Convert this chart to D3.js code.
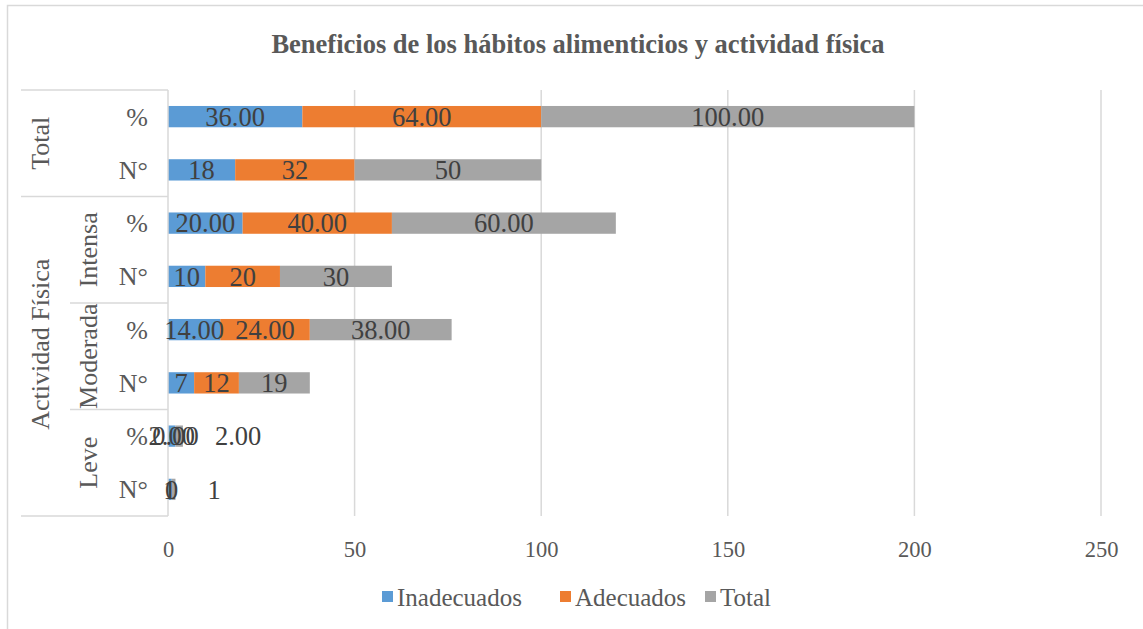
<!DOCTYPE html>
<html>
<head>
<meta charset="utf-8">
<script src="https://cdn.jsdelivr.net/npm/d3@7"></script>
<style>
  html, body { margin: 0; padding: 0; background: #fff; }
  svg { display: block; }
  text { font-family: "Liberation Serif", "Times New Roman", serif; }
</style>
</head>
<body>
<svg id="chart" width="1143" height="629"></svg>
<script>
// ---- data ----
const title = "Beneficios de los hábitos alimenticios y actividad física";
const rowLabels = ["%", "N°", "%", "N°", "%", "N°", "%", "N°"];
const subGroups = [
  { name: "", from: 0, to: 1 },
  { name: "Intensa", from: 2, to: 3 },
  { name: "Moderada", from: 4, to: 5 },
  { name: "Leve", from: 6, to: 7 }
];
const topGroups = [
  { name: "Total", from: 0, to: 1 },
  { name: "Actividad Física", from: 2, to: 7 }
];
const seriesNames = ["Inadecuados", "Adecuados", "Total"];
const inadecuados = [36, 18, 20, 10, 14, 7, 2, 1];
const adecuados   = [64, 32, 40, 20, 24, 12, 0, 0];
const totalVals   = [100, 50, 60, 30, 38, 19, 2, 1];
const xTicks = [0, 50, 100, 150, 200, 250];
const colors = ["#5b9bd5", "#ed7d31", "#a5a5a5"];

// ---- build ----
const rows = rowLabels.map((r, i) => ({
  id: i, label: r,
  Inadecuados: inadecuados[i], Adecuados: adecuados[i], Total: totalVals[i]
}));

const svg = d3.select("#chart");
const gridColor = "#d9d9d9";

// outer border
svg.append("rect").attr("x", 7.5).attr("y", 5.5).attr("width", 1200).attr("height", 700)
  .attr("fill", "none").attr("stroke", gridColor).attr("stroke-width", 1.5);

const plotTop = 90, plotBottom = 516, plotLeft = 168, plotRight = 1101;
const x = d3.scaleLinear().domain([0, 250]).range([plotLeft, plotRight]);
const y = d3.scaleBand().domain(rows.map(d => d.id)).range([plotTop, plotBottom])
  .paddingInner(0.6).paddingOuter(0.3);
const rowTop = i => plotTop + i * (plotBottom - plotTop) / rows.length;

// title
svg.append("text").attr("x", 578).attr("y", 53).attr("text-anchor", "middle")
  .attr("font-size", 26.5).attr("font-weight", "bold").attr("fill", "#595959").text(title);

// gridlines
svg.append("g").selectAll("line").data(xTicks.filter(t => t > 0)).join("line")
  .attr("x1", d => x(d)).attr("x2", d => x(d))
  .attr("y1", plotTop).attr("y2", plotBottom)
  .attr("stroke", gridColor).attr("stroke-width", 1.5);

// x axis tick labels
const xAxis = d3.axisBottom(x).tickValues(xTicks).tickSize(0).tickPadding(0);
const gx = svg.append("g").attr("transform", `translate(0,${plotBottom + 41})`).call(xAxis);
gx.select(".domain").remove();
gx.selectAll("text").attr("font-size", 22.5).attr("fill", "#595959")
  .attr("font-family", "Liberation Serif").attr("dy", 0);

// stacked bars
const stack = d3.stack().keys(seriesNames);
const stacked = stack(rows);
const gBars = svg.append("g");
stacked.forEach((s, si) => {
  gBars.append("g").attr("fill", colors[si]).selectAll("rect").data(s).join("rect")
    .attr("x", d => x(d[0])).attr("width", d => x(d[1]) - x(d[0]))
    .attr("y", (d, i) => y(i)).attr("height", y.bandwidth());
});

// category axis line
svg.append("line").attr("x1", plotLeft).attr("x2", plotLeft)
  .attr("y1", plotTop).attr("y2", plotBottom).attr("stroke", gridColor).attr("stroke-width", 1.5);

// data labels
const gLab = svg.append("g");
stacked.forEach((s, si) => {
  s.forEach((d, i) => {
    const isPct = rows[i].label === "%";
    const v = d.data[seriesNames[si]];
    const txt = isPct ? v.toFixed(2) : String(v);
    const w = x(d[1]) - x(d[0]);
    let tx = (x(d[0]) + x(d[1])) / 2, anchor = "middle";
    if (si === 2 && w < 20) { tx = x(d[1]) + 32; anchor = "start"; }
    gLab.append("text").attr("x", tx).attr("y", y(i) + y.bandwidth() / 2)
      .attr("dy", "0.35em").attr("text-anchor", anchor)
      .attr("font-size", 26.5).attr("fill", "#404040").text(txt);
  });
});

// category labels (row level)
svg.append("g").selectAll("text").data(rows).join("text")
  .attr("x", 148).attr("y", (d, i) => y(i) + y.bandwidth() / 2).attr("dy", "0.35em")
  .attr("text-anchor", "end").attr("font-size", 26).attr("fill", "#595959")
  .text(d => d.label);

// sub group labels
subGroups.forEach(g => {
  const t = rowTop(g.from), b = rowTop(g.to + 1);
  if (g.name) {
    const cy = (t + b) / 2;
    svg.append("text").attr("transform", `translate(88,${cy}) rotate(-90)`)
      .attr("text-anchor", "middle").attr("dy", "0.35em")
      .attr("font-size", 26).attr("fill", "#595959").text(g.name);
  }
});
// level-2 separators within the Actividad group
[4, 6].forEach(r => {
  svg.append("line").attr("x1", 70).attr("x2", plotLeft)
    .attr("y1", rowTop(r)).attr("y2", rowTop(r)).attr("stroke", gridColor).attr("stroke-width", 1.5);
});
// top groups
topGroups.forEach((g, gi) => {
  const t = rowTop(g.from), b = rowTop(g.to + 1);
  const cy = (t + b) / 2 - (gi === 1 ? 12 : 0);
  svg.append("text").attr("transform", `translate(40,${cy}) rotate(-90)`)
    .attr("text-anchor", "middle").attr("dy", "0.35em")
    .attr("font-size", 26).attr("fill", "#595959").text(g.name);
});
[0, 2, 8].forEach(r => {
  svg.append("line").attr("x1", 21).attr("x2", plotLeft)
    .attr("y1", rowTop(r)).attr("y2", rowTop(r)).attr("stroke", gridColor).attr("stroke-width", 1.5);
});

// legend
const legendItems = [
  { name: "Inadecuados", x: 382 },
  { name: "Adecuados", x: 560 },
  { name: "Total", x: 705 }
];
const gLeg = svg.append("g");
legendItems.forEach((it, i) => {
  gLeg.append("rect").attr("x", it.x).attr("y", 591).attr("width", 11).attr("height", 11)
    .attr("fill", colors[i]);
  gLeg.append("text").attr("x", it.x + 15).attr("y", 597).attr("dy", "0.35em")
    .attr("font-size", 25).attr("fill", "#595959").text(seriesNames[i]);
});
</script>
</body>
</html>
